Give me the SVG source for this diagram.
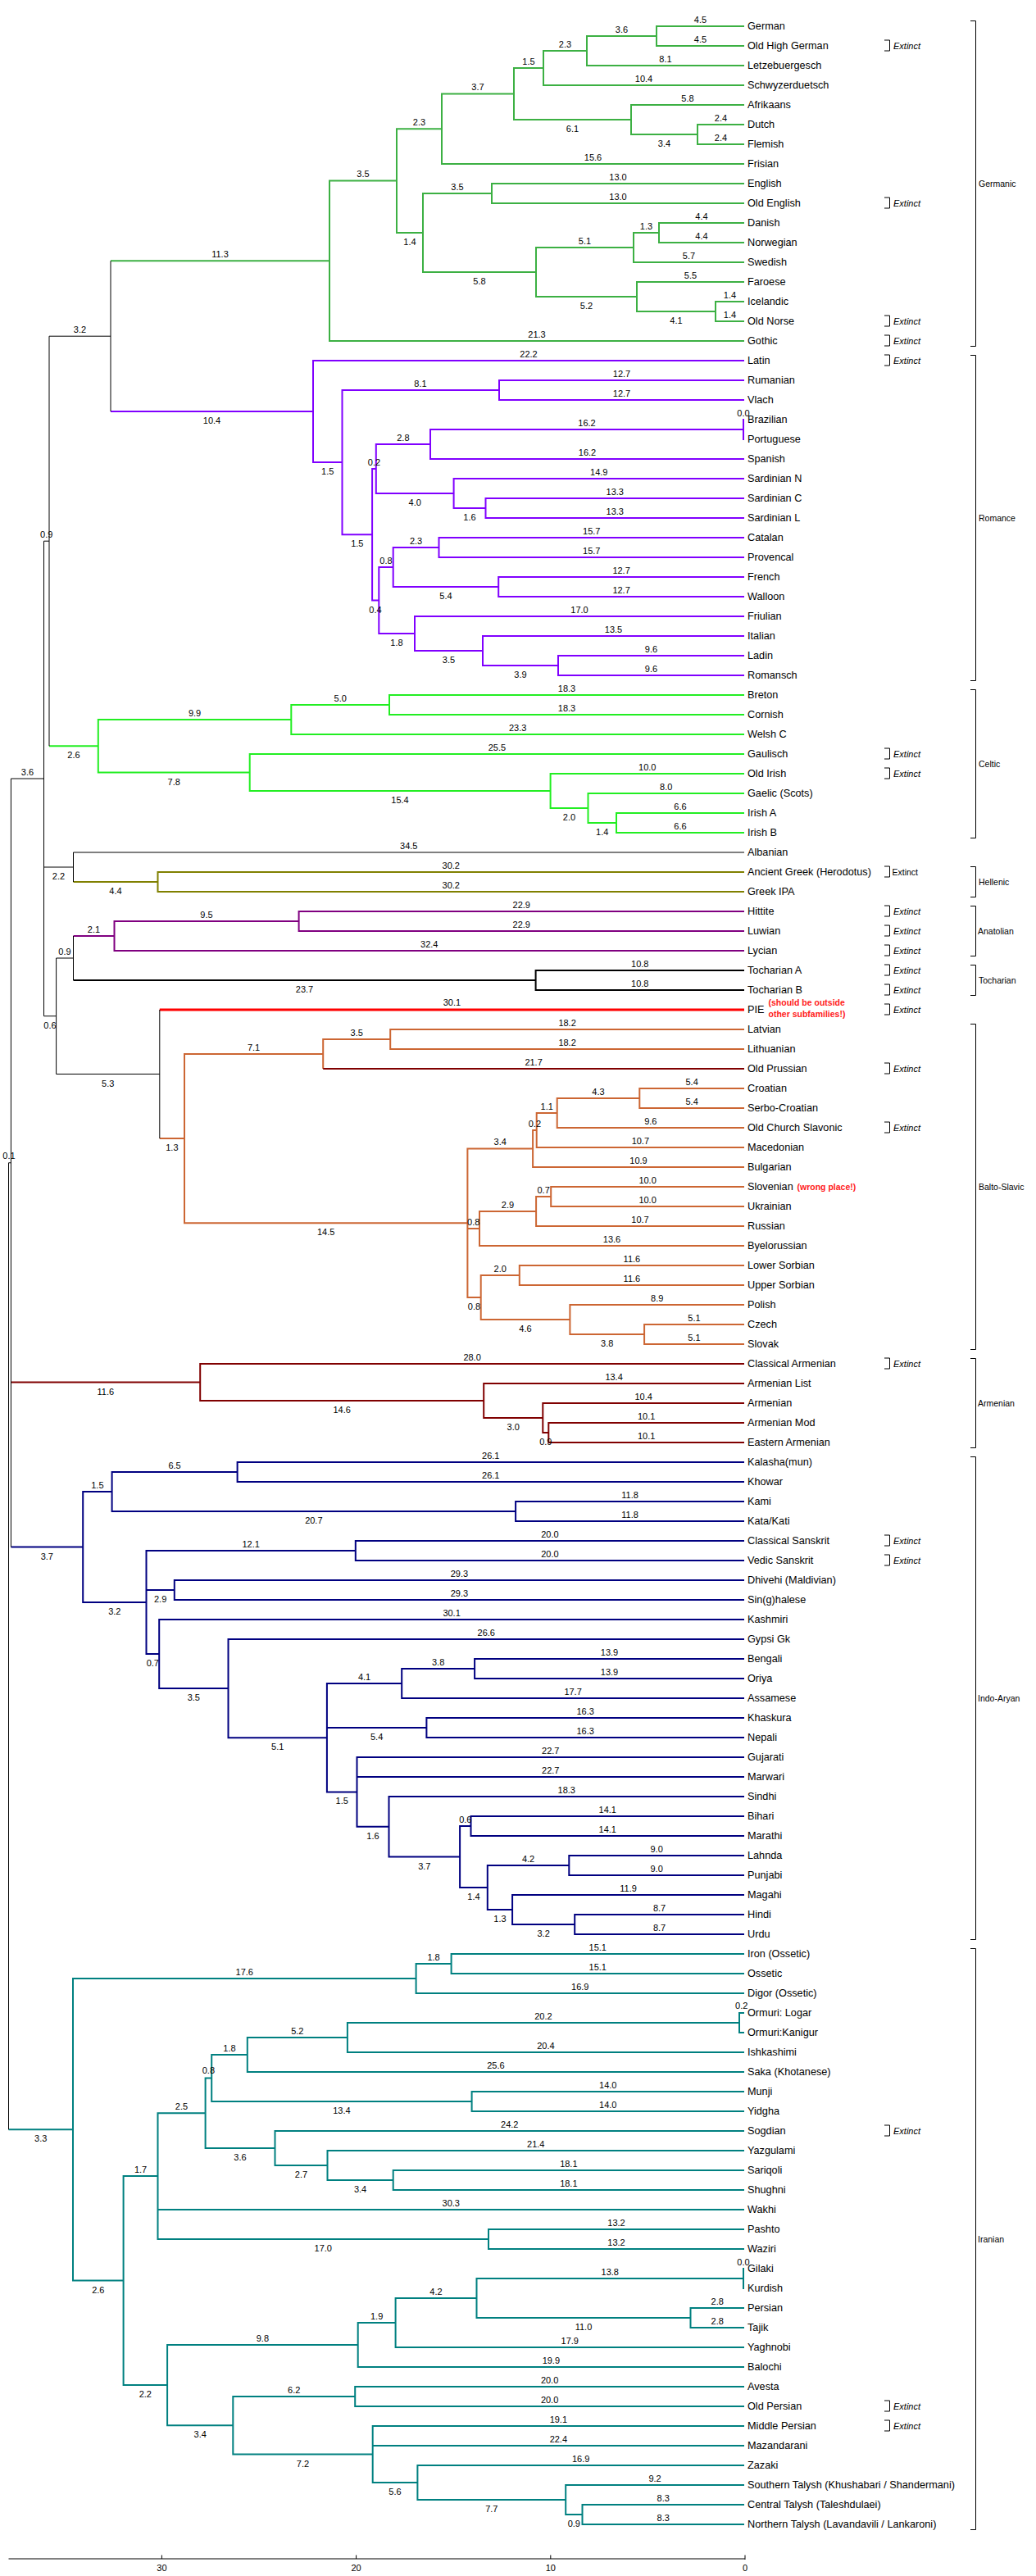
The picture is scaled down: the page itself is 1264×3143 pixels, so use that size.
<svg xmlns="http://www.w3.org/2000/svg" width="1264" height="3143" viewBox="0 0 1264 3143">
<style>
text{font-family:"Liberation Sans",Arial,sans-serif}
.t{font-size:12.7px;fill:#000}
.b text{font-size:11px;text-anchor:middle;fill:#000}
.x{font-size:11px;font-style:italic;fill:#000}
.xn{font-size:10.5px;fill:#000}
.gl{font-size:10.5px;fill:#000}
.red{font-size:10.5px;font-weight:bold;fill:#FF2020}
path{fill:none}
.k{stroke:#000;stroke-width:1}
.ger{stroke:#3CB043;stroke-width:2}
.rom{stroke:#8000FF;stroke-width:2}
.cel{stroke:#22EE22;stroke-width:2}
.hel{stroke:#808000;stroke-width:2}
.ana{stroke:#800080;stroke-width:2}
.toc{stroke:#000;stroke-width:2}
.pie{stroke:#FF0000;stroke-width:3}
.bsl{stroke:#CC6633;stroke-width:2}
.arm{stroke:#800000;stroke-width:2}
.ind{stroke:#000080;stroke-width:2}
.ira{stroke:#008080;stroke-width:2}
.br{stroke:#000;stroke-width:1}
</style>
<rect width="1264" height="3143" fill="#fff"/>
<g id="connectors">
<g class="ger">
<path d="M908 32H801V56H908"/>
<path d="M801 44H716V80H908"/>
<path d="M716 62H663V104H908"/>
<path d="M908 152H851V176H908"/>
<path d="M908 128H770V164H851"/>
<path d="M663 83H627V146H770"/>
<path d="M627 114.5H539V200H908"/>
<path d="M908 224H600V248H908"/>
<path d="M908 272H804V296H908"/>
<path d="M804 284H773V320H908"/>
<path d="M908 368H873V392H908"/>
<path d="M908 344H777V380H873"/>
<path d="M773 302H654V362H777"/>
<path d="M600 236H516V332H654"/>
<path d="M539 157.25H484V284H516"/>
<path d="M484 220.6H402V416H908"/>
<path d="M402 318.3H135"/>
</g>
<g class="rom">
<path d="M908 464H609V488H908"/>
<path d="M907 511V537"/>
<path d="M907 524H525V560H908"/>
<path d="M908 608H592.5V632H908"/>
<path d="M908 584H553.6V620H592.5"/>
<path d="M525 542H458.8V602H553.6"/>
<path d="M908 656H535.5V680H908"/>
<path d="M908 704H608.2V728H908"/>
<path d="M535.5 668H479.7V716H608.2"/>
<path d="M908 800H681V824H908"/>
<path d="M908 776H589V812H681"/>
<path d="M908 752H506V794H589"/>
<path d="M479.7 692H462.3V773H506"/>
<path d="M458.8 572H454.1V732.5H462.3"/>
<path d="M609 476H417.5V652.25H454.1"/>
<path d="M908 440H382V564H417.5"/>
<path d="M382 502H135"/>
</g>
<g class="cel">
<path d="M908 848H475V872H908"/>
<path d="M475 860H355.3V896H908"/>
<path d="M908 992H752V1016H908"/>
<path d="M908 968H717.5V1004H752"/>
<path d="M908 944H671.6V986H717.5"/>
<path d="M908 920H304.7V965H671.6"/>
<path d="M355.3 878H119.8V942.5H304.7"/>
<path d="M119.8 910.25H60"/>
</g>
<path class="hel" d="M908 1064H192.5V1088H908M192.5 1076H89.5"/>
<path class="ana" d="M908 1112H364.6V1136H908M364.6 1124H139.5V1160H908M139.5 1142H89.5"/>
<path class="toc" d="M908 1184H653.6V1208H908M653.6 1196H89.5"/>
<path class="pie" d="M908 1232H194.8"/>
<g class="bsl">
<path d="M908 1256H476.2V1280H908M476.2 1268H394.2V1304"/>
<path d="M908 1328H780.3V1352H908"/>
<path d="M780.3 1340H679.7V1376H908"/>
<path d="M679.7 1358H654.7V1400H908"/>
<path d="M654.7 1379H650.1V1424H908"/>
<path d="M908 1448H672.2V1472H908"/>
<path d="M672.2 1460H654.1V1496H908"/>
<path d="M654.1 1478H585V1520H908"/>
<path d="M908 1544H633.8V1568H908"/>
<path d="M908 1616H786.1V1640H908"/>
<path d="M908 1592H695.4V1628H786.1"/>
<path d="M633.8 1556H586.7V1610H695.4"/>
<path d="M650.1 1401.5H570.4V1583H586.7M570.4 1499H585"/>
<path d="M394.2 1286H225V1492.25H570.4"/>
<path d="M225 1389H194.8"/>
</g>
<path class="arm" d="M394.2 1304H908"/>
<path class="arm" d="M908 1736H669.3V1760H908M908 1712H662.3V1748H669.3M908 1688H590.2V1730H662.3M908 1664H244.2V1709H590.2M244.2 1686.5H13.4"/>
<g class="ind">
<path d="M908 1784H289.6V1808H908"/>
<path d="M908 1832H629.1V1856H908"/>
<path d="M289.6 1796H136.6V1844H629.1"/>
<path d="M908 1880H433.8V1904H908"/>
<path d="M908 1928H212.8V1952H908"/>
<path d="M908 2024H579.1V2048H908"/>
<path d="M579.1 2036H490.2V2072H908"/>
<path d="M908 2096H520.4V2120H908"/>
<path d="M908 2216H574.5V2240H908"/>
<path d="M908 2264H694.3V2288H908"/>
<path d="M908 2336H701.2V2360H908"/>
<path d="M908 2312H625.1V2348H701.2"/>
<path d="M694.3 2276H594.8V2330H625.1"/>
<path d="M574.5 2228H561.1V2303H594.8"/>
<path d="M908 2192H474.5V2265.5H561.1"/>
<path d="M908 2144H435.5V2228.75H474.5M435.5 2168H908"/>
<path d="M490.2 2054H398.9V2186.4H435.5M398.9 2108H520.4"/>
<path d="M908 2000H278.5V2120.2H398.9"/>
<path d="M908 1976H194.2V2060.1H278.5"/>
<path d="M433.8 1892H178.5V2018H194.2M178.5 1940H212.8"/>
<path d="M136.6 1820H101.2V1955H178.5"/>
<path d="M101.2 1887.5H13.4"/>
</g>
<g class="ira">
<path d="M908 2384H550.6V2408H908"/>
<path d="M550.6 2396H507.6V2432H908"/>
<path d="M908 2456H902V2480H908"/>
<path d="M902 2468H423.9V2504H908"/>
<path d="M423.9 2486H301.8V2528H908"/>
<path d="M908 2552H575.6V2576H908"/>
<path d="M301.8 2507H258.2V2564H575.6"/>
<path d="M908 2648H479.7V2672H908"/>
<path d="M908 2624H399.5V2660H479.7"/>
<path d="M908 2600H335.5V2642H399.5"/>
<path d="M258.2 2535.5H250.6V2621H335.5"/>
<path d="M908 2720H596V2744H908"/>
<path d="M250.6 2578.25H192.5V2732H596M192.5 2696H908"/>
<path d="M907 2767V2793"/>
<path d="M908 2816H842.5V2840H908"/>
<path d="M907 2780H581.5V2828H842.5"/>
<path d="M581.5 2804H482.6V2864H908"/>
<path d="M482.6 2834H436.7V2888H908"/>
<path d="M908 2912H433.2V2936H908"/>
<path d="M908 3056H710.5V3080H908"/>
<path d="M908 3032H690.2V3068H710.5"/>
<path d="M908 3008H509.4V3050H690.2"/>
<path d="M908 2960H454.7V3029H509.4M454.7 2984H908"/>
<path d="M433.2 2924H284.3V2994.5H454.7"/>
<path d="M436.7 2861H204.1V2959.25H284.3"/>
<path d="M192.5 2655.1H150.6V2910.1H204.1"/>
<path d="M507.6 2414H89V2782.6H150.6"/>
<path d="M89 2598.3H10.5"/>
</g>
<path class="k" d="M135 318.3V502M135 410.2H60M60 410.2V910.25M60 660.2H53.5M89.5 1040V1076M89.5 1058H53.5M908 1040H89.5M89.5 1142V1196M89.5 1169H68.6M194.8 1232V1389M194.8 1310.5H68.6M68.6 1169V1310.5M68.6 1239.75H53.5M53.5 660.2V1239.75M53.5 950H13.4M13.4 950V1887.5M13.4 1418.75H10.5M10.5 1418.75V2598.3"/>
</g>
<g id="branch-lengths" class="b">
<text x="854.5" y="27.5">4.5</text><text x="854.5" y="51.5">4.5</text><text x="812" y="75.5">8.1</text><text x="785.5" y="99.5">10.4</text><text x="839" y="123.5">5.8</text><text x="879.5" y="147.5">2.4</text><text x="879.5" y="171.5">2.4</text><text x="723.5" y="195.5">15.6</text><text x="754" y="219.5">13.0</text><text x="754" y="243.5">13.0</text><text x="856" y="267.5">4.4</text><text x="856" y="291.5">4.4</text><text x="840.5" y="315.5">5.7</text><text x="842.5" y="339.5">5.5</text><text x="890.5" y="363.5">1.4</text><text x="890.5" y="387.5">1.4</text><text x="655" y="411.5">21.3</text><text x="758.5" y="39.5">3.6</text><text x="689.5" y="57.5">2.3</text><text x="645" y="78.5">1.5</text><text x="698.5" y="161">6.1</text><text x="810.5" y="179">3.4</text><text x="583" y="110">3.7</text><text x="511.5" y="152.75">2.3</text><text x="558" y="231.5">3.5</text><text x="585" y="347">5.8</text><text x="788.5" y="279.5">1.3</text><text x="713.5" y="297.5">5.1</text><text x="715.5" y="377">5.2</text><text x="825" y="395">4.1</text><text x="500" y="299">1.4</text><text x="443" y="216">3.5</text><text x="268.5" y="313.8">11.3</text><text x="258.5" y="517">10.4</text><text x="97.5" y="405.7">3.2</text><text x="90" y="925.25">2.6</text>
<text x="645" y="435.5">22.2</text><text x="758.5" y="459.5">12.7</text><text x="758.5" y="483.5">12.7</text><text x="907" y="507.5">0.0</text><text x="716" y="519.5">16.2</text><text x="716.5" y="555.5">16.2</text><text x="730.8" y="579.5">14.9</text><text x="750.25" y="603.5">13.3</text><text x="750.25" y="627.5">13.3</text><text x="573" y="635">1.6</text><text x="491.9" y="537.5">2.8</text><text x="506.2" y="617">4.0</text><text x="456.5" y="567.5">0.2</text><text x="721.75" y="651.5">15.7</text><text x="721.75" y="675.5">15.7</text><text x="758.1" y="699.5">12.7</text><text x="758.1" y="723.5">12.7</text><text x="507.6" y="663.5">2.3</text><text x="544" y="731">5.4</text><text x="471" y="687.5">0.8</text><text x="707" y="747.5">17.0</text><text x="748.5" y="771.5">13.5</text><text x="794.5" y="795.5">9.6</text><text x="794.5" y="819.5">9.6</text><text x="635" y="827">3.9</text><text x="547.5" y="809">3.5</text><text x="484" y="788">1.8</text><text x="458" y="747.5">0.4</text><text x="513" y="471.5">8.1</text><text x="435.8" y="667.25">1.5</text><text x="399.75" y="579">1.5</text>
<text x="691.5" y="843.5">18.3</text><text x="691.5" y="867.5">18.3</text><text x="631.7" y="891.5">23.3</text><text x="415.2" y="855.5">5.0</text><text x="237.6" y="873.5">9.9</text><text x="606.4" y="915.5">25.5</text><text x="789.8" y="939.5">10.0</text><text x="812.75" y="963.5">8.0</text><text x="830" y="987.5">6.6</text><text x="830" y="1011.5">6.6</text><text x="734.75" y="1019">1.4</text><text x="694.5" y="1001">2.0</text><text x="488" y="980">15.4</text><text x="212.25" y="957.5">7.8</text><text x="56.75" y="655.7">0.9</text>
<text x="498.75" y="1035.5">34.5</text><text x="550.25" y="1059.5">30.2</text><text x="550.25" y="1083.5">30.2</text><text x="141" y="1091">4.4</text><text x="71.5" y="1073">2.2</text><text x="636.3" y="1107.5">22.9</text><text x="636.3" y="1131.5">22.9</text><text x="523.75" y="1155.5">32.4</text><text x="252" y="1119.5">9.5</text><text x="114.5" y="1137.5">2.1</text><text x="780.8" y="1179.5">10.8</text><text x="780.8" y="1203.5">10.8</text><text x="371.5" y="1211">23.7</text><text x="79" y="1164.5">0.9</text><text x="551.4" y="1227">30.1</text><text x="61" y="1254.75">0.6</text><text x="33.5" y="945.5">3.6</text>
<text x="692.1" y="1251.5">18.2</text><text x="692.1" y="1275.5">18.2</text><text x="651.1" y="1299.5">21.7</text><text x="435.2" y="1263.5">3.5</text><text x="309.6" y="1281.5">7.1</text><text x="209.9" y="1404">1.3</text><text x="131.7" y="1325.5">5.3</text><text x="397.7" y="1507.25">14.5</text><text x="844.15" y="1323.5">5.4</text><text x="844.15" y="1347.5">5.4</text><text x="793.85" y="1371.5">9.6</text><text x="781.35" y="1395.5">10.7</text><text x="779" y="1419.5">10.9</text><text x="730" y="1335.5">4.3</text><text x="667.2" y="1353.5">1.1</text><text x="652.4" y="1374.5">0.2</text><text x="610.25" y="1397">3.4</text><text x="790.1" y="1443.5">10.0</text><text x="790.1" y="1467.5">10.0</text><text x="781" y="1491.5">10.7</text><text x="746.5" y="1515.5">13.6</text><text x="663.15" y="1455.5">0.7</text><text x="619.5" y="1473.5">2.9</text><text x="577.7" y="1494.5">0.8</text><text x="770.9" y="1539.5">11.6</text><text x="770.9" y="1563.5">11.6</text><text x="801.7" y="1587.5">8.9</text><text x="847" y="1611.5">5.1</text><text x="847" y="1635.5">5.1</text><text x="610.25" y="1551.5">2.0</text><text x="641" y="1625">4.6</text><text x="740.75" y="1643">3.8</text><text x="578.5" y="1598">0.8</text>
<text x="576.1" y="1659.5">28.0</text><text x="749.1" y="1683.5">13.4</text><text x="785.15" y="1707.5">10.4</text><text x="788.65" y="1731.5">10.1</text><text x="788.65" y="1755.5">10.1</text><text x="128.8" y="1701.5">11.6</text><text x="417.2" y="1724">14.6</text><text x="626.25" y="1745">3.0</text><text x="665.8" y="1763">0.9</text><text x="11" y="1414">0.1</text>
<text x="598.8" y="1779.5">26.1</text><text x="598.8" y="1803.5">26.1</text><text x="768.55" y="1827.5">11.8</text><text x="768.55" y="1851.5">11.8</text><text x="213.1" y="1791.5">6.5</text><text x="382.85" y="1859">20.7</text><text x="118.9" y="1815.5">1.5</text><text x="57.3" y="1902.5">3.7</text><text x="670.9" y="1875.5">20.0</text><text x="670.9" y="1899.5">20.0</text><text x="306.15" y="1887.5">12.1</text><text x="560.4" y="1923.5">29.3</text><text x="560.4" y="1947.5">29.3</text><text x="195.65" y="1955">2.9</text><text x="139.85" y="1970">3.2</text><text x="551.1" y="1971.5">30.1</text><text x="186.35" y="2033">0.7</text><text x="593.25" y="1995.5">26.6</text><text x="236.35" y="2075.1">3.5</text><text x="743.55" y="2019.5">13.9</text><text x="743.55" y="2043.5">13.9</text><text x="699.1" y="2067.5">17.7</text><text x="534.65" y="2031.5">3.8</text><text x="444.55" y="2049.5">4.1</text><text x="714.2" y="2091.5">16.3</text><text x="714.2" y="2115.5">16.3</text><text x="459.65" y="2123">5.4</text><text x="338.7" y="2135.2">5.1</text><text x="671.75" y="2139.5">22.7</text><text x="671.75" y="2163.5">22.7</text><text x="417.2" y="2201.4">1.5</text><text x="691.25" y="2187.5">18.3</text><text x="455" y="2243.75">1.6</text><text x="741.25" y="2211.5">14.1</text><text x="741.25" y="2235.5">14.1</text><text x="567.8" y="2223.5">0.6</text><text x="517.8" y="2280.5">3.7</text><text x="801.15" y="2259.5">9.0</text><text x="801.15" y="2283.5">9.0</text><text x="644.55" y="2271.5">4.2</text><text x="577.95" y="2318">1.4</text><text x="766.55" y="2307.5">11.9</text><text x="804.6" y="2331.5">8.7</text><text x="804.6" y="2355.5">8.7</text><text x="609.95" y="2345">1.3</text><text x="663.15" y="2363">3.2</text>
<text x="729.3" y="2379.5">15.1</text><text x="729.3" y="2403.5">15.1</text><text x="707.8" y="2427.5">16.9</text><text x="529.1" y="2391.5">1.8</text><text x="298.3" y="2409.5">17.6</text><text x="904.7" y="2451">0.2</text><text x="662.95" y="2463.5">20.2</text><text x="665.95" y="2499.5">20.4</text><text x="362.85" y="2481.5">5.2</text><text x="604.9" y="2523.5">25.6</text><text x="280" y="2502.5">1.8</text><text x="741.8" y="2547.5">14.0</text><text x="741.8" y="2571.5">14.0</text><text x="416.9" y="2579">13.4</text><text x="254.4" y="2530">0.8</text><text x="621.75" y="2595.5">24.2</text><text x="653.75" y="2619.5">21.4</text><text x="693.85" y="2643.5">18.1</text><text x="693.85" y="2667.5">18.1</text><text x="439.6" y="2675">3.4</text><text x="367.5" y="2657">2.7</text><text x="293" y="2636">3.6</text><text x="221.5" y="2573.75">2.5</text><text x="550.25" y="2691.5">30.3</text><text x="752" y="2715.5">13.2</text><text x="752" y="2739.5">13.2</text><text x="394.25" y="2747">17.0</text><text x="171.55" y="2650.6">1.7</text><text x="907" y="2763.5">0.0</text><text x="744.25" y="2775.5">13.8</text><text x="875.25" y="2811.5">2.8</text><text x="875.25" y="2835.5">2.8</text><text x="712" y="2843">11.0</text><text x="532" y="2799.5">4.2</text><text x="695.3" y="2859.5">17.9</text><text x="459.65" y="2829.5">1.9</text><text x="672.35" y="2883.5">19.9</text><text x="320.4" y="2856.5">9.8</text><text x="670.6" y="2907.5">20.0</text><text x="670.6" y="2931.5">20.0</text><text x="358.75" y="2919.5">6.2</text><text x="681.35" y="2955.5">19.1</text><text x="681.35" y="2979.5">22.4</text><text x="708.7" y="3003.5">16.9</text><text x="799.1" y="3027.5">9.2</text><text x="809.25" y="3051.5">8.3</text><text x="809.25" y="3075.5">8.3</text><text x="700.35" y="3083">0.9</text><text x="599.8" y="3065">7.7</text><text x="482" y="3044">5.6</text><text x="369.5" y="3009.5">7.2</text><text x="244.2" y="2974.25">3.4</text><text x="177.35" y="2925.1">2.2</text><text x="119.8" y="2797.6">2.6</text><text x="49.75" y="2613.3">3.3</text>
</g>
<g id="leaves" class="t">
<g id="leaf-german"><text x="912" y="35.5">German</text></g>
<g id="leaf-old-high-german"><text x="912" y="59.5">Old High German</text></g>
<g id="leaf-letzebuergesch"><text x="912" y="83.5">Letzebuergesch</text></g>
<g id="leaf-schwyzerduetsch"><text x="912" y="107.5">Schwyzerduetsch</text></g>
<g id="leaf-afrikaans"><text x="912" y="131.5">Afrikaans</text></g>
<g id="leaf-dutch"><text x="912" y="155.5">Dutch</text></g>
<g id="leaf-flemish"><text x="912" y="179.5">Flemish</text></g>
<g id="leaf-frisian"><text x="912" y="203.5">Frisian</text></g>
<g id="leaf-english"><text x="912" y="227.5">English</text></g>
<g id="leaf-old-english"><text x="912" y="251.5">Old English</text></g>
<g id="leaf-danish"><text x="912" y="275.5">Danish</text></g>
<g id="leaf-norwegian"><text x="912" y="299.5">Norwegian</text></g>
<g id="leaf-swedish"><text x="912" y="323.5">Swedish</text></g>
<g id="leaf-faroese"><text x="912" y="347.5">Faroese</text></g>
<g id="leaf-icelandic"><text x="912" y="371.5">Icelandic</text></g>
<g id="leaf-old-norse"><text x="912" y="395.5">Old Norse</text></g>
<g id="leaf-gothic"><text x="912" y="419.5">Gothic</text></g>
<g id="leaf-latin"><text x="912" y="443.5">Latin</text></g>
<g id="leaf-rumanian"><text x="912" y="467.5">Rumanian</text></g>
<g id="leaf-vlach"><text x="912" y="491.5">Vlach</text></g>
<g id="leaf-brazilian"><text x="912" y="515.5">Brazilian</text></g>
<g id="leaf-portuguese"><text x="912" y="539.5">Portuguese</text></g>
<g id="leaf-spanish"><text x="912" y="563.5">Spanish</text></g>
<g id="leaf-sardinian-n"><text x="912" y="587.5">Sardinian N</text></g>
<g id="leaf-sardinian-c"><text x="912" y="611.5">Sardinian C</text></g>
<g id="leaf-sardinian-l"><text x="912" y="635.5">Sardinian L</text></g>
<g id="leaf-catalan"><text x="912" y="659.5">Catalan</text></g>
<g id="leaf-provencal"><text x="912" y="683.5">Provencal</text></g>
<g id="leaf-french"><text x="912" y="707.5">French</text></g>
<g id="leaf-walloon"><text x="912" y="731.5">Walloon</text></g>
<g id="leaf-friulian"><text x="912" y="755.5">Friulian</text></g>
<g id="leaf-italian"><text x="912" y="779.5">Italian</text></g>
<g id="leaf-ladin"><text x="912" y="803.5">Ladin</text></g>
<g id="leaf-romansch"><text x="912" y="827.5">Romansch</text></g>
<g id="leaf-breton"><text x="912" y="851.5">Breton</text></g>
<g id="leaf-cornish"><text x="912" y="875.5">Cornish</text></g>
<g id="leaf-welsh-c"><text x="912" y="899.5">Welsh C</text></g>
<g id="leaf-gaulisch"><text x="912" y="923.5">Gaulisch</text></g>
<g id="leaf-old-irish"><text x="912" y="947.5">Old Irish</text></g>
<g id="leaf-gaelic"><text x="912" y="971.5">Gaelic (Scots)</text></g>
<g id="leaf-irish-a"><text x="912" y="995.5">Irish A</text></g>
<g id="leaf-irish-b"><text x="912" y="1019.5">Irish B</text></g>
<g id="leaf-albanian"><text x="912" y="1043.5">Albanian</text></g>
<g id="leaf-ancient-greek"><text x="912" y="1067.5">Ancient Greek (Herodotus)</text></g>
<g id="leaf-greek-ipa"><text x="912" y="1091.5">Greek IPA</text></g>
<g id="leaf-hittite"><text x="912" y="1115.5">Hittite</text></g>
<g id="leaf-luwian"><text x="912" y="1139.5">Luwian</text></g>
<g id="leaf-lycian"><text x="912" y="1163.5">Lycian</text></g>
<g id="leaf-tocharian-a"><text x="912" y="1187.5">Tocharian A</text></g>
<g id="leaf-tocharian-b"><text x="912" y="1211.5">Tocharian B</text></g>
<g id="leaf-pie"><text x="912" y="1235.5">PIE</text><text class="red" x="937.5" y="1226.5">(should be outside</text><text class="red" x="937.5" y="1240.5">other subfamilies!)</text></g>
<g id="leaf-latvian"><text x="912" y="1259.5">Latvian</text></g>
<g id="leaf-lithuanian"><text x="912" y="1283.5">Lithuanian</text></g>
<g id="leaf-old-prussian"><text x="912" y="1307.5">Old Prussian</text></g>
<g id="leaf-croatian"><text x="912" y="1331.5">Croatian</text></g>
<g id="leaf-serbo-croatian"><text x="912" y="1355.5">Serbo-Croatian</text></g>
<g id="leaf-ocs"><text x="912" y="1379.5">Old Church Slavonic</text></g>
<g id="leaf-macedonian"><text x="912" y="1403.5">Macedonian</text></g>
<g id="leaf-bulgarian"><text x="912" y="1427.5">Bulgarian</text></g>
<g id="leaf-slovenian"><text x="912" y="1451.5">Slovenian</text><text class="red" x="972.5" y="1451.5">(wrong place!)</text></g>
<g id="leaf-ukrainian"><text x="912" y="1475.5">Ukrainian</text></g>
<g id="leaf-russian"><text x="912" y="1499.5">Russian</text></g>
<g id="leaf-byelorussian"><text x="912" y="1523.5">Byelorussian</text></g>
<g id="leaf-lower-sorbian"><text x="912" y="1547.5">Lower Sorbian</text></g>
<g id="leaf-upper-sorbian"><text x="912" y="1571.5">Upper Sorbian</text></g>
<g id="leaf-polish"><text x="912" y="1595.5">Polish</text></g>
<g id="leaf-czech"><text x="912" y="1619.5">Czech</text></g>
<g id="leaf-slovak"><text x="912" y="1643.5">Slovak</text></g>
<g id="leaf-classical-armenian"><text x="912" y="1667.5">Classical Armenian</text></g>
<g id="leaf-armenian-list"><text x="912" y="1691.5">Armenian List</text></g>
<g id="leaf-armenian"><text x="912" y="1715.5">Armenian</text></g>
<g id="leaf-armenian-mod"><text x="912" y="1739.5">Armenian Mod</text></g>
<g id="leaf-eastern-armenian"><text x="912" y="1763.5">Eastern Armenian</text></g>
<g id="leaf-kalasha"><text x="912" y="1787.5">Kalasha(mun)</text></g>
<g id="leaf-khowar"><text x="912" y="1811.5">Khowar</text></g>
<g id="leaf-kami"><text x="912" y="1835.5">Kami</text></g>
<g id="leaf-kata"><text x="912" y="1859.5">Kata/Kati</text></g>
<g id="leaf-classical-sanskrit"><text x="912" y="1883.5">Classical Sanskrit</text></g>
<g id="leaf-vedic-sanskrit"><text x="912" y="1907.5">Vedic Sanskrit</text></g>
<g id="leaf-dhivehi"><text x="912" y="1931.5">Dhivehi (Maldivian)</text></g>
<g id="leaf-sinhalese"><text x="912" y="1955.5">Sin(g)halese</text></g>
<g id="leaf-kashmiri"><text x="912" y="1979.5">Kashmiri</text></g>
<g id="leaf-gypsi-gk"><text x="912" y="2003.5">Gypsi Gk</text></g>
<g id="leaf-bengali"><text x="912" y="2027.5">Bengali</text></g>
<g id="leaf-oriya"><text x="912" y="2051.5">Oriya</text></g>
<g id="leaf-assamese"><text x="912" y="2075.5">Assamese</text></g>
<g id="leaf-khaskura"><text x="912" y="2099.5">Khaskura</text></g>
<g id="leaf-nepali"><text x="912" y="2123.5">Nepali</text></g>
<g id="leaf-gujarati"><text x="912" y="2147.5">Gujarati</text></g>
<g id="leaf-marwari"><text x="912" y="2171.5">Marwari</text></g>
<g id="leaf-sindhi"><text x="912" y="2195.5">Sindhi</text></g>
<g id="leaf-bihari"><text x="912" y="2219.5">Bihari</text></g>
<g id="leaf-marathi"><text x="912" y="2243.5">Marathi</text></g>
<g id="leaf-lahnda"><text x="912" y="2267.5">Lahnda</text></g>
<g id="leaf-punjabi"><text x="912" y="2291.5">Punjabi</text></g>
<g id="leaf-magahi"><text x="912" y="2315.5">Magahi</text></g>
<g id="leaf-hindi"><text x="912" y="2339.5">Hindi</text></g>
<g id="leaf-urdu"><text x="912" y="2363.5">Urdu</text></g>
<g id="leaf-iron"><text x="912" y="2387.5">Iron (Ossetic)</text></g>
<g id="leaf-ossetic"><text x="912" y="2411.5">Ossetic</text></g>
<g id="leaf-digor"><text x="912" y="2435.5">Digor (Ossetic)</text></g>
<g id="leaf-ormuri-logar"><text x="912" y="2459.5">Ormuri: Logar</text></g>
<g id="leaf-ormuri-kanigur"><text x="912" y="2483.5">Ormuri:Kanigur</text></g>
<g id="leaf-ishkashimi"><text x="912" y="2507.5">Ishkashimi</text></g>
<g id="leaf-saka"><text x="912" y="2531.5">Saka (Khotanese)</text></g>
<g id="leaf-munji"><text x="912" y="2555.5">Munji</text></g>
<g id="leaf-yidgha"><text x="912" y="2579.5">Yidgha</text></g>
<g id="leaf-sogdian"><text x="912" y="2603.5">Sogdian</text></g>
<g id="leaf-yazgulami"><text x="912" y="2627.5">Yazgulami</text></g>
<g id="leaf-sariqoli"><text x="912" y="2651.5">Sariqoli</text></g>
<g id="leaf-shughni"><text x="912" y="2675.5">Shughni</text></g>
<g id="leaf-wakhi"><text x="912" y="2699.5">Wakhi</text></g>
<g id="leaf-pashto"><text x="912" y="2723.5">Pashto</text></g>
<g id="leaf-waziri"><text x="912" y="2747.5">Waziri</text></g>
<g id="leaf-gilaki"><text x="912" y="2771.5">Gilaki</text></g>
<g id="leaf-kurdish"><text x="912" y="2795.5">Kurdish</text></g>
<g id="leaf-persian"><text x="912" y="2819.5">Persian</text></g>
<g id="leaf-tajik"><text x="912" y="2843.5">Tajik</text></g>
<g id="leaf-yaghnobi"><text x="912" y="2867.5">Yaghnobi</text></g>
<g id="leaf-balochi"><text x="912" y="2891.5">Balochi</text></g>
<g id="leaf-avesta"><text x="912" y="2915.5">Avesta</text></g>
<g id="leaf-old-persian"><text x="912" y="2939.5">Old Persian</text></g>
<g id="leaf-middle-persian"><text x="912" y="2963.5">Middle Persian</text></g>
<g id="leaf-mazandarani"><text x="912" y="2987.5">Mazandarani</text></g>
<g id="leaf-zazaki"><text x="912" y="3011.5">Zazaki</text></g>
<g id="leaf-southern-talysh"><text x="912" y="3035.5">Southern Talysh (Khushabari / Shandermani)</text></g>
<g id="leaf-central-talysh"><text x="912" y="3059.5">Central Talysh (Taleshdulaei)</text></g>
<g id="leaf-northern-talysh"><text x="912" y="3083.5">Northern Talysh (Lavandavili / Lankaroni)</text></g>
</g>
<g id="extinct-marks">
<path class="br" d="M1079 49H1085.5V62H1079M1079 241H1085.5V254H1079M1079 385H1085.5V398H1079M1079 409H1085.5V422H1079M1079 433H1085.5V446H1079M1079 913H1085.5V926H1079M1079 937H1085.5V950H1079M1079 1057H1085.5V1070H1079M1079 1105H1085.5V1118H1079M1079 1129H1085.5V1142H1079M1079 1153H1085.5V1166H1079M1079 1177H1085.5V1190H1079M1079 1201H1085.5V1214H1079M1079 1225H1085.5V1238H1079M1079 1297H1085.5V1310H1079M1079 1369H1085.5V1382H1079M1079 1657H1085.5V1670H1079M1079 1873H1085.5V1886H1079M1079 1897H1085.5V1910H1079M1079 2593H1085.5V2606H1079M1079 2929H1085.5V2942H1079M1079 2953H1085.5V2966H1079"/>
<g class="x">
<text x="1090" y="59.5">Extinct</text><text x="1090" y="251.5">Extinct</text><text x="1090" y="395.5">Extinct</text><text x="1090" y="419.5">Extinct</text><text x="1090" y="443.5">Extinct</text><text x="1090" y="923.5">Extinct</text><text x="1090" y="947.5">Extinct</text><text x="1090" y="1115.5">Extinct</text><text x="1090" y="1139.5">Extinct</text><text x="1090" y="1163.5">Extinct</text><text x="1090" y="1187.5">Extinct</text><text x="1090" y="1211.5">Extinct</text><text x="1090" y="1235.5">Extinct</text><text x="1090" y="1307.5">Extinct</text><text x="1090" y="1379.5">Extinct</text><text x="1090" y="1667.5">Extinct</text><text x="1090" y="1883.5">Extinct</text><text x="1090" y="1907.5">Extinct</text><text x="1090" y="2603.5">Extinct</text><text x="1090" y="2939.5">Extinct</text><text x="1090" y="2963.5">Extinct</text>
</g>
<text class="xn" x="1088.5" y="1067.5">Extinct</text>
</g>
<g id="groups">
<path class="br" d="M1184 25.5H1190.5V422.5H1184M1184 433.5H1190.5V830.5H1184M1184 841.5H1190.5V1022.5H1184M1184 1057.5H1190.5V1094.5H1184M1184 1105.5H1190.5V1166.5H1184M1184 1177.5H1190.5V1214.5H1184M1184 1249.5H1190.5V1646.5H1184M1184 1657.5H1190.5V1766.5H1184M1184 1777.5H1190.5V2366.5H1184M1184 2377.5H1190.5V3086.5H1184"/>
<g class="gl">
<text x="1194" y="227.5">Germanic</text>
<text x="1194" y="635.5">Romance</text>
<text x="1194" y="935.5">Celtic</text>
<text x="1194" y="1079.5">Hellenic</text>
<text x="1193" y="1139.5">Anatolian</text>
<text x="1194" y="1199.5">Tocharian</text>
<text x="1194" y="1451.5">Balto-Slavic</text>
<text x="1193" y="1715.5">Armenian</text>
<text x="1193" y="2075.5">Indo-Aryan</text>
<text x="1193" y="2735.5">Iranian</text>
</g>
</g>
<g id="axis">
<path class="k" d="M10.5 3122H909M197.4 3117.5V3122M434.6 3117.5V3122M671.8 3117.5V3122M909 3117.5V3123"/>
<g class="b">
<text x="197.4" y="3137">30</text><text x="434.6" y="3137">20</text><text x="671.8" y="3137">10</text><text x="909" y="3137">0</text>
</g>
</g>
</svg>
